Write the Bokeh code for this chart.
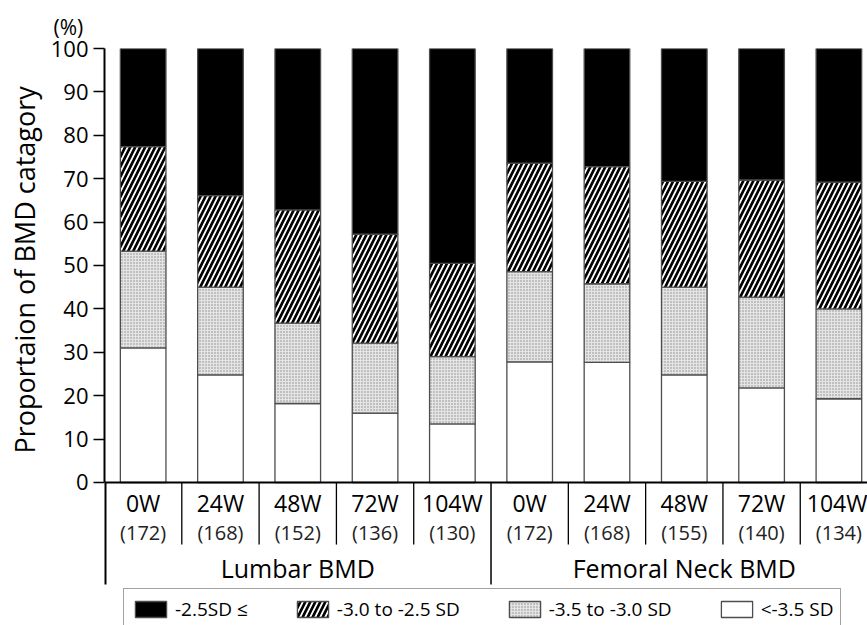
from bokeh.plotting import figure
from bokeh.models import Range1d, FixedTicker, Legend, LegendItem, ColumnDataSource, Title
from bokeh.core.properties import value
from bokeh.embed import file_html
from bokeh.resources import INLINE

# ---------------- data ----------------
weeks = ["0W", "24W", "48W", "72W", "104W", "0W", "24W", "48W", "72W", "104W"]
counts = ["(172)", "(168)", "(152)", "(136)", "(130)",
          "(172)", "(168)", "(155)", "(140)", "(134)"]
groups = ["Lumbar BMD", "Femoral Neck BMD"]
legend_labels = ["-2.5SD \u2264", "-3.0 to -2.5 SD", "-3.5 to -3.0 SD", "<-3.5 SD"]

below_35 = [31.0, 24.8, 18.2, 16.0, 13.5, 27.8, 27.7, 24.8, 21.8, 19.3]       # <-3.5 SD
from_35_to_30 = [22.3, 20.2, 18.5, 16.1, 15.5, 20.8, 18.1, 20.2, 20.9, 20.7]  # -3.5 to -3.0 SD
from_30_to_25 = [24.1, 21.1, 26.1, 25.1, 21.5, 25.0, 27.0, 24.4, 27.0, 29.2]  # -3.0 to -2.5 SD
above_25 = [22.6, 33.9, 37.2, 42.8, 49.5, 26.4, 27.2, 30.6, 30.3, 30.8]       # -2.5SD <=

y_ticks = [0, 10, 20, 30, 40, 50, 60, 70, 80, 90, 100]
y_title = "Proportaion of BMD catagory"
unit_text = "(%)"

FONT = "Open Sans"

# ---------------- derived ----------------
n = len(weeks)
half = n // 2
xs = [i + 0.5 for i in range(n)]
b1 = [0.0] * n
t1 = [b + v for b, v in zip(b1, below_35)]
t2 = [b + v for b, v in zip(t1, from_35_to_30)]
t3 = [b + v for b, v in zip(t2, from_30_to_25)]
t4 = [b + v for b, v in zip(t3, above_25)]

src = ColumnDataSource(dict(x=xs, b1=b1, t1=t1, t2=t2, t3=t3, t4=t4,
                            weeks=weeks, counts=counts))

# the frame reaches the bottom of the page so that the category table
# under the axis can be drawn with the plot's own scales
Y_LOW = -32.95
COUNT_Y = -11.5
GROUP_Y = -19.8
SHORT_SEP = -14.3
LONG_SEP = -23.5

p = figure(width=867, height=625, output_backend="svg", toolbar_location=None,
           x_range=Range1d(0, 9.87), y_range=Range1d(Y_LOW, 100),
           min_border_left=100, min_border_right=0, min_border_top=48,
           min_border_bottom=0)
p.grid.visible = False
p.outline_line_color = None
p.background_fill_color = "white"

W = 0.59
OUT = "#4d4d4d"
r_white = p.vbar(x="x", bottom="b1", top="t1", width=W, source=src,
                 fill_color="white", line_color=OUT, line_width=1.3)
r_dot = p.vbar(x="x", bottom="t1", top="t2", width=W, source=src,
               fill_color="#e4e4e4", line_color=OUT, line_width=1.3,
               hatch_pattern="dot", hatch_scale=3, hatch_weight=1.0,
               hatch_color="#8a8a8a")
r_hatch = p.vbar(x="x", bottom="t2", top="t3", width=W, source=src,
                 fill_color="white", line_color=OUT, line_width=1.3,
                 hatch_pattern="right_diagonal_line", hatch_scale=10,
                 hatch_weight=2.7, hatch_color="black")
r_black = p.vbar(x="x", bottom="t3", top="t4", width=W, source=src,
                 fill_color="black", line_color=OUT, line_width=1.3)

# y axis
ya = p.yaxis[0]
ya.ticker = FixedTicker(ticks=y_ticks)
ya.bounds = (0, 100)
ya.minor_tick_line_color = None
ya.major_tick_in = 0
ya.major_tick_out = 11
ya.major_tick_line_width = 1.5
ya.axis_line_width = 2
ya.axis_line_color = "black"
ya.major_tick_line_color = "black"
ya.major_label_text_font = FONT
ya.major_label_text_font_size = "22px"
ya.major_label_text_color = "black"
ya.major_label_standoff = 5

# y title, aligned on the 0..100 part of the axis
p.add_layout(Title(text=y_title, align="left", offset=172, standoff=8,
                   vertical_align="middle",
                   text_font=FONT, text_font_size="27px",
                   text_font_style="normal", text_color="black"), "left")

# x axis at y = 0, week labels at category centres
xa = p.xaxis[0]
xa.fixed_location = 0
xa.ticker = FixedTicker(ticks=xs, minor_ticks=[])
xa.major_label_overrides = {x: w for x, w in zip(xs, weeks)}
xa.major_tick_in = 0
xa.major_tick_out = 0
xa.major_tick_line_color = None
xa.minor_tick_line_color = None
xa.axis_line_width = 2
xa.axis_line_color = "black"
xa.major_label_text_font = FONT
xa.major_label_text_font_size = "23px"
xa.major_label_text_color = "black"
xa.major_label_standoff = 5

# counts under week labels
p.text(x="x", y=value(COUNT_Y), text="counts", source=src,
       text_align="center", text_baseline="middle",
       text_font=value(FONT), text_font_size="20px", text_color="#222222")

# group labels
gx = [sum(xs[:half]) / half, sum(xs[half:]) / (n - half)]
p.text(x=gx, y=[GROUP_Y, GROUP_Y], text=groups,
       text_align="center", text_baseline="middle",
       text_font=value(FONT), text_font_size="25px", text_color="black")

# separators of the category table
short_x = [float(i) for i in range(1, n) if i != half]
p.segment(x0=short_x, x1=short_x, y0=[0] * len(short_x), y1=[SHORT_SEP] * len(short_x),
          line_color="black", line_width=1.3)
long_x = [0.0, float(half)]
p.segment(x0=long_x, x1=long_x, y0=[0, 0], y1=[LONG_SEP, LONG_SEP],
          line_color="black", line_width=[4, 1.5])

# (%) caption
p.title.text = unit_text
p.title.align = "left"
p.title.offset = -51
p.title.text_font = FONT
p.title.text_font_size = "21px"
p.title.text_font_style = "normal"
p.title.text_color = "black"
p.title.standoff = 16

legend = Legend(items=[LegendItem(label=legend_labels[0], renderers=[r_black]),
                       LegendItem(label=legend_labels[1], renderers=[r_hatch]),
                       LegendItem(label=legend_labels[2], renderers=[r_dot]),
                       LegendItem(label=legend_labels[3], renderers=[r_white])],
                orientation="horizontal", location=(19, -5),
                padding=7, spacing=45, margin=0,
                glyph_width=39, glyph_height=20, label_standoff=5,
                label_text_font=FONT, label_text_font_size="19px",
                label_text_color="black",
                border_line_color="#444444", border_line_width=1,
                background_fill_color="white", background_fill_alpha=1)
p.add_layout(legend, "center")

open("out.html", "w").write(file_html(p, INLINE))
